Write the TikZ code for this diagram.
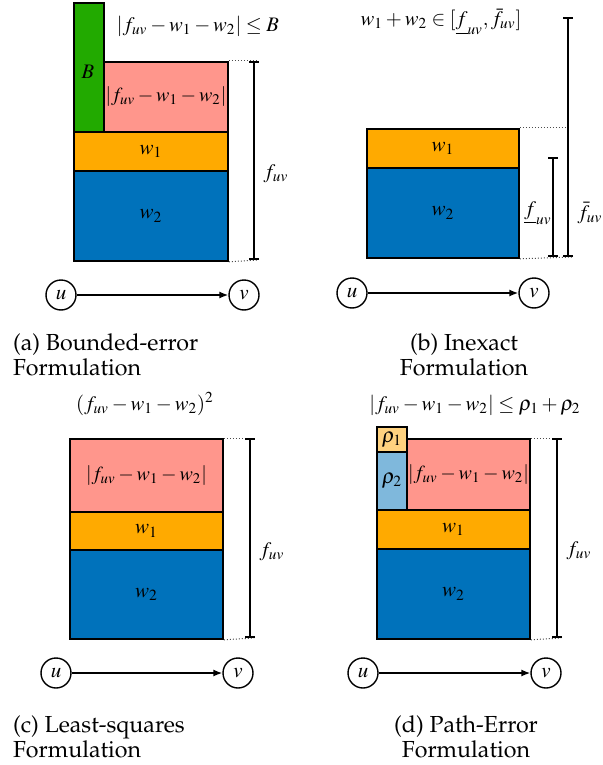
\documentclass[tikz,border=0pt]{standalone}
\usepackage{mathptmx}
\usetikzlibrary{arrows.meta,positioning}
\definecolor{errGreen}{HTML}{22AA00}
\definecolor{errPink}{HTML}{FF968C}
\definecolor{wOrange}{HTML}{FFAA00}
\definecolor{wBlue}{HTML}{0072BB}
\definecolor{rhoOne}{HTML}{FFD27F}
\definecolor{rhoTwo}{HTML}{7FB8DC}
\newcommand{\capfont}{\fontencoding{OT1}\fontfamily{ppl}\fontsize{11.6}{12.5}\selectfont}
\newcommand{\resid}{|f_{uv}-w_1-w_2|}

\begin{document}
\begin{tikzpicture}[x=0.5pt, y=-0.5pt,
      blk/.style={draw, line width=0.9pt, anchor=north west, inner sep=0pt,
                  font=\fontsize{10.5}{12}\selectfont},
      errblk/.style={blk, fill=errPink, font=\fontsize{10}{12}\selectfont},
      vert/.style={circle, draw, line width=0.7pt, minimum size=15pt, inner sep=0pt,
                   font=\fontsize{10.5}{12}\selectfont},
      flow/.style={-{Latex[length=4.5pt,width=3.5pt]}, line width=0.7pt},
      dimbar/.style={{Bar[width=5pt]}-{Bar[width=5pt]}, line width=0.9pt},
      dotline/.style={densely dotted, line width=0.5pt, black!70},
      formula/.style={font=\fontsize{10.3}{12}\selectfont},
      subcap/.style={font=\capfont}
    ]
      \useasboundingbox (0,0) rectangle (603,765);

      % (a) bounded error
      \node[blk, fill=errGreen, minimum width=15pt, minimum height=64.5pt] (aB) at (73,2) {};
      \node[formula] (aBl) at (88,72) {$B$};
      \node[errblk, minimum width=62pt, minimum height=35pt] (aE) at (103,61) {$\resid$};
      \node[blk, fill=wOrange, minimum width=77pt, minimum height=19.5pt] (aw1) at (73,131) {$w_1$};
      \node[blk, fill=wBlue, minimum width=77pt, minimum height=45pt] (aw2) at (73,170) {$w_2$};
      \coordinate (aTop) at (254,61);
      \coordinate (aBot) at (254,260);
      \draw[dotline] (aE.north east) -- ([xshift=2pt]aTop);
      \draw[dotline] (aw2.south east) -- ([xshift=2pt]aBot);
      \draw[dimbar] (aTop) -- (aBot) node[pos=0.565, right=1pt, formula] {$f_{uv}$};
      \node[formula] (aF) at (198,26) {$\resid \le B$};
      \node[vert] (au) at (61,295) {$u$};
      \node[vert] (av) at (244,295) {$v$};
      \draw[flow] (au) -- (av);
      \node[subcap, align=left, anchor=west] (aC) at (6,355) {(a) Bounded-error\\Formulation};

      % (b) inexact
      \node[blk, fill=wOrange, minimum width=76pt, minimum height=19.5pt] (bw1) at (366,128) {$w_1$};
      \node[blk, fill=wBlue, minimum width=76pt, minimum height=45pt] (bw2) at (366,167) {$w_2$};
      \coordinate (bLo) at (553,157);
      \coordinate (bHi) at (568,17);
      \coordinate (bLoEnd) at (553,257);
      \coordinate (bHiEnd) at (568,257);
      \draw[dotline] (bw1.north east) -- (bw1.north east -| bHi);
      \draw[dotline] (bw2.south east) -- ([xshift=2.5pt]bHiEnd);
      \draw[dimbar] (bLo) -- (bLoEnd);
      \draw[dimbar] (bHi) -- (bHiEnd);
      \node[formula] (bLoL) at (538,213) {$\underline{f}_{uv}$};
      \node[formula] (bHiL) at (590,213) {$\bar{f}_{uv}$};
      \node[formula] (bF) at (441,22) {$w_1+w_2\in[\underline{f}_{uv},\bar{f}_{uv}]$};
      \node[vert] (bu) at (352,293) {$u$};
      \node[vert] (bv) at (534,293) {$v$};
      \draw[flow] (bu) -- (bv);
      \node[subcap, align=center] (bC) at (464,355) {(b) Inexact\\Formulation};

      % (c) least squares
      \node[errblk, minimum width=76.5pt, minimum height=36.5pt] (cE) at (69,438) {$\resid$};
      \node[blk, fill=wOrange, minimum width=76.5pt, minimum height=19pt] (cw1) at (69,511) {$w_1$};
      \node[blk, fill=wBlue, minimum width=76.5pt, minimum height=44.5pt] (cw2) at (69,549) {$w_2$};
      \coordinate (cTop) at (250,438);
      \coordinate (cBot) at (250,638);
      \draw[dotline] (cE.north east) -- ([xshift=2pt]cTop);
      \draw[dotline] (cw2.south east) -- ([xshift=2pt]cBot);
      \draw[dimbar] (cTop) -- (cBot) node[pos=0.57, right=1pt, formula] {$f_{uv}$};
      \node[formula] (cF) at (145,404) {$(f_{uv}-w_1-w_2)^2$};
      \node[vert] (cu) at (56,673) {$u$};
      \node[vert] (cv) at (238,673) {$v$};
      \draw[flow] (cu) -- (cv);
      \node[subcap, align=left, anchor=west] (cC) at (6,737) {(c) Least-squares\\Formulation};

      % (d) path error
      \node[blk, fill=rhoOne, minimum width=15pt, minimum height=12.5pt] (dR1) at (376,426) {$\rho_1$};
      \node[blk, fill=rhoTwo, minimum width=15pt, minimum height=29pt] (dR2) at (376,451) {$\rho_2$};
      \node[errblk, minimum width=61.5pt, minimum height=35.5pt] (dE) at (406,438) {$\resid$};
      \node[blk, fill=wOrange, minimum width=76.5pt, minimum height=19.5pt] (dw1) at (376,509) {$w_1$};
      \node[blk, fill=wBlue, minimum width=76.5pt, minimum height=45pt] (dw2) at (376,548) {$w_2$};
      \coordinate (dTop) at (557,438);
      \coordinate (dBot) at (557,638);
      \draw[dotline] (dE.north east) -- ([xshift=2pt]dTop);
      \draw[dotline] (dw2.south east) -- ([xshift=2pt]dBot);
      \draw[dimbar] (dTop) -- (dBot) node[pos=0.565, right=1pt, formula] {$f_{uv}$};
      \node[formula] (dF) at (475,405) {$\resid\le\rho_1+\rho_2$};
      \node[vert] (du) at (363,673) {$u$};
      \node[vert] (dv) at (546,673) {$v$};
      \draw[flow] (du) -- (dv);
      \node[subcap, align=center] (dC) at (466,737) {(d) Path-Error\\Formulation};
    \end{tikzpicture}
\end{document}
